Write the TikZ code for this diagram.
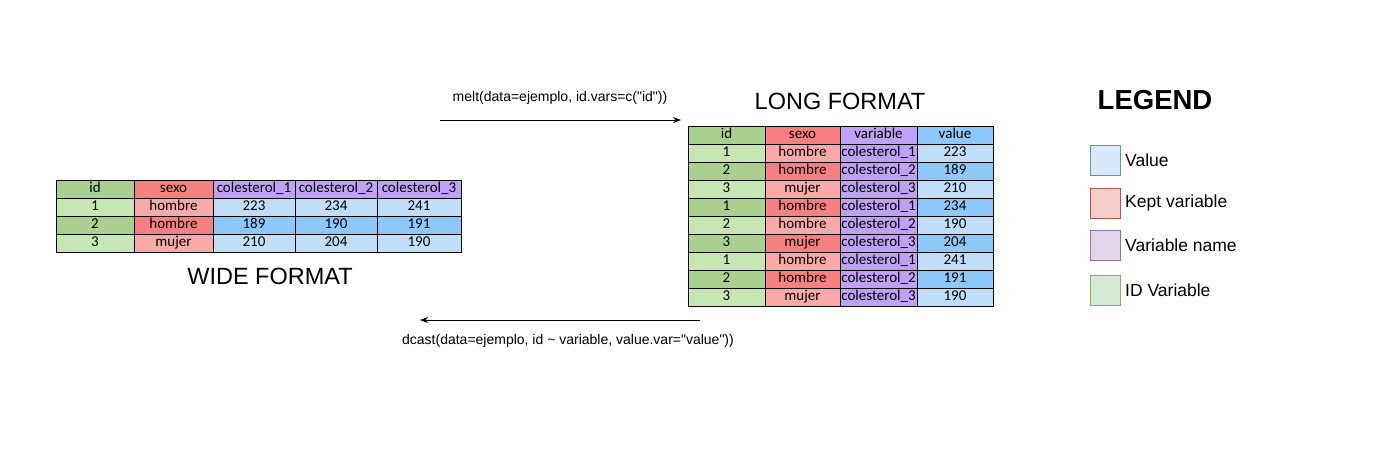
\documentclass[tikz,border=0pt]{standalone}
\usepackage{fontspec}
\setmainfont{Liberation Sans}[Ligatures=NoCommon]
\newfontfamily\calibri{Carlito}
\usetikzlibrary{arrows.meta}
\definecolor{gH}{HTML}{A9D08E}
\definecolor{gL}{HTML}{C6E6B4}
\definecolor{rH}{HTML}{F78181}
\definecolor{rL}{HTML}{F8A9A8}
\definecolor{pH}{HTML}{BFA2F5}
\definecolor{bH}{HTML}{8EC8F8}
\definecolor{bL}{HTML}{C0DEF8}
\definecolor{lgBf}{HTML}{DAE8FC}\definecolor{lgBd}{HTML}{6C8EBF}
\definecolor{lgRf}{HTML}{F8CECC}\definecolor{lgRd}{HTML}{B85450}
\definecolor{lgPf}{HTML}{E1D5E7}\definecolor{lgPd}{HTML}{9673A6}
\definecolor{lgGf}{HTML}{D5E8D4}\definecolor{lgGd}{HTML}{82B366}
\tikzset{
  cell/.style={draw=black, line width=0.6pt, inner sep=0pt, minimum height=18pt,
    text height=10.5pt, text depth=3pt,
    font=\calibri\fontsize{15}{15}\selectfont, anchor=center},
  title/.style={font=\fontsize{23.5}{24}\selectfont},
  legbox/.style={draw, line width=0.7pt, minimum width=30pt, minimum height=30pt, inner sep=0pt},
  leglabel/.style={anchor=west, inner sep=0pt, font=\fontsize{17.5}{18}\selectfont},
  arrlabel/.style={font=\fontsize{14}{14}\selectfont, inner sep=0pt},
  conn/.style={line width=0.8pt, -{Stealth[length=8pt,width=6pt]}}
}
\begin{document}
\begin{tikzpicture}[x=1pt,y=-1pt]
\useasboundingbox (0,0) rectangle (1373,453);
\fill[white] (0,0) rectangle (1373,453);
% ---- wide table ----
\foreach \r/\a/\b/\c/\d/\e/\fa/\fb/\fc in {
  0/id/sexo/colesterol\_1/colesterol\_2/colesterol\_3/gH/rH/pH,
  1/1/hombre/223/234/241/gL/rL/bL,
  2/2/hombre/189/190/191/gH/rH/bH,
  3/3/mujer/210/204/190/gL/rL/bL}{
  \pgfmathsetmacro{\y}{189+18*\r}
  \node[cell, fill=\fa, minimum width=78pt] (w\r a) at (95,\y) {\a};
  \node[cell, fill=\fb, minimum width=79pt] (w\r b) at (173.5,\y) {\b};
  \node[cell, fill=\fc, minimum width=82pt] (w\r c) at (254,\y) {\c};
  \node[cell, fill=\fc, minimum width=82pt] (w\r d) at (336,\y) {\d};
  \node[cell, fill=\fc, minimum width=84pt] (w\r e) at (419,\y) {\e};
}
\node[title] (wt) at (270,276) {WIDE FORMAT};
% ---- long table ----
\foreach \r/\a/\b/\c/\d/\fa/\fb/\fd in {
  0/id/sexo/variable/value/gH/rH/bH,
  1/1/hombre/colesterol\_1/223/gL/rL/bL,
  2/2/hombre/colesterol\_2/189/gH/rH/bH,
  3/3/mujer/colesterol\_3/210/gL/rL/bL,
  4/1/hombre/colesterol\_1/234/gH/rH/bH,
  5/2/hombre/colesterol\_2/190/gL/rL/bL,
  6/3/mujer/colesterol\_3/204/gH/rH/bH,
  7/1/hombre/colesterol\_1/241/gL/rL/bL,
  8/2/hombre/colesterol\_2/191/gH/rH/bH,
  9/3/mujer/colesterol\_3/190/gL/rL/bL}{
  \pgfmathsetmacro{\y}{135+18*\r}
  \node[cell, fill=\fa, minimum width=77pt] (l\r a) at (726.5,\y) {\a};
  \node[cell, fill=\fb, minimum width=75pt] (l\r b) at (802.5,\y) {\b};
  \node[cell, fill=pH, minimum width=77pt] (l\r c) at (878.5,\y) {\c};
  \node[cell, fill=\fd, minimum width=76pt] (l\r d) at (955,\y) {\d};
}
\node[title] (lt) at (840,101) {LONG FORMAT};
% ---- arrows ----
\coordinate (m1) at (440,120);
\coordinate (m2) at (681,120);
\draw[conn] (m1) -- (m2);
\node[arrlabel] (ml) at (560,98) {melt(data=ejemplo, id.vars=c(\textquotedbl id\textquotedbl))};
\coordinate (d1) at (700,320);
\coordinate (d2) at (420,320);
\draw[conn] (d1) -- (d2);
\node[arrlabel] (dl) at (568,341) {dcast(data=ejemplo, id \textasciitilde{} variable, value.var=\textquotedbl value\textquotedbl))};
% ---- legend ----
\node[font=\bfseries\fontsize{27.5}{28}\selectfont] (lg) at (1155,100) {LEGEND};
\node[legbox, fill=lgBf, draw=lgBd] (k1) at (1105,160) {};
\node[leglabel] (k1t) at (1125,160) {Value};
\node[legbox, fill=lgRf, draw=lgRd] (k2) at (1105,203) {};
\node[leglabel] (k2t) at (1125,203) {Kept variable};
\node[legbox, fill=lgPf, draw=lgPd] (k3) at (1105,245) {};
\node[leglabel] (k3t) at (1125,245) {Variable name};
\node[legbox, fill=lgGf, draw=lgGd] (k4) at (1105,290) {};
\node[leglabel] (k4t) at (1125,290) {ID Variable};
\end{tikzpicture}
\end{document}
